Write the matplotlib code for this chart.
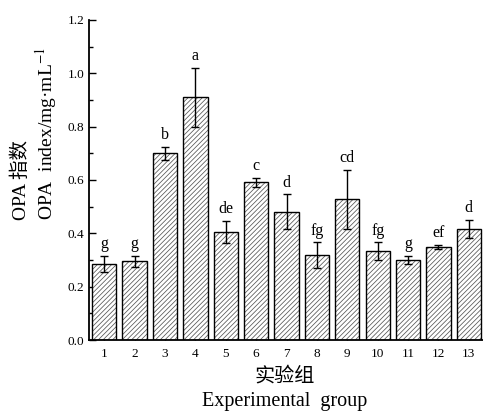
import matplotlib
matplotlib.use("Agg")
import matplotlib.pyplot as plt
from matplotlib.ticker import MultipleLocator
import numpy as np

# values
groups = ['1', '2', '3', '4', '5', '6', '7', '8', '9', '10', '11', '12', '13']
opa_index = [0.285, 0.295, 0.70, 0.91, 0.406, 0.591, 0.481, 0.318, 0.528, 0.333, 0.300, 0.349, 0.416]
opa_err = [0.030, 0.020, 0.025, 0.110, 0.042, 0.018, 0.065, 0.048, 0.110, 0.033, 0.015, 0.009, 0.034]
sig_letters = ['g', 'g', 'b', 'a', 'de', 'c', 'd', 'fg', 'cd', 'fg', 'g', 'ef', 'd']

plt.rcParams['font.family'] = ['Liberation Serif', 'Noto Sans CJK SC']
plt.rcParams['mathtext.fontset'] = 'stix'
plt.rcParams['hatch.linewidth'] = 0.55

fig = plt.figure(figsize=(4.83, 4.11), dpi=100)
ax = fig.add_axes([89 / 483, 71 / 411, 395 / 483, 320 / 411])

x = np.arange(1, len(groups) + 1)
# hatch drawn in grey, outline drawn separately in black
ax.bar(x, opa_index, width=0.8, color='white', edgecolor='#555555', linewidth=0,
       hatch='///////', zorder=2)
ax.bar(x, opa_index, width=0.8, fill=False, edgecolor='black', linewidth=1.0, zorder=2.5)
ax.errorbar(x, opa_index, yerr=opa_err, fmt='none', ecolor='black', elinewidth=1.0,
            capsize=3, capthick=1.0, zorder=3)

for xi, v, e, lab in zip(x, opa_index, opa_err, sig_letters):
    ax.annotate(lab, (xi, v + e), xytext=(0, 5.5), textcoords='offset points',
                ha='center', va='baseline', fontsize=11.5)

ax.set_xlim(0.5, 13.5)
ax.set_ylim(0, 1.2)
ax.set_xticks(x)
ax.set_xticklabels(groups)
ax.yaxis.set_major_locator(MultipleLocator(0.2))
ax.yaxis.set_minor_locator(MultipleLocator(0.1))
ax.yaxis.set_major_formatter(matplotlib.ticker.FormatStrFormatter('%.1f'))
ax.tick_params(axis='both', which='major', direction='in', length=5, width=1, labelsize=9.5)
ax.tick_params(axis='y', which='minor', direction='in', length=3, width=1)
ax.tick_params(axis='x', pad=6)

for s in ['top', 'right']:
    ax.spines[s].set_visible(False)
for s in ['left', 'bottom']:
    ax.spines[s].set_linewidth(1.3)

# axis titles (Chinese + English lines)
fig.text(21 / 483, 1 - 220 / 411, 'OPA 指数', rotation=90, ha='center', va='bottom', fontsize=14)
fig.text(46 / 483, 1 - 220 / 411, 'OPA  index/mg·mL$^{-1}$', rotation=90, ha='center',
         va='bottom', fontsize=14)
fig.text(285 / 483, 1 - 377 / 411, '实验组', ha='center', va='center', fontsize=14.5)
fig.text(285 / 483, 1 - 401 / 411, 'Experimental  group', ha='center', va='center', fontsize=14.5)

fig.savefig('out.png', dpi=100)
